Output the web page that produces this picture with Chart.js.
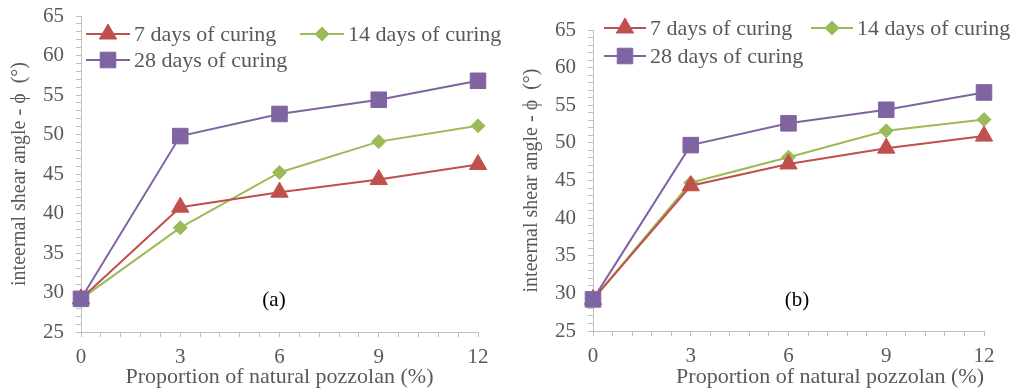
<!DOCTYPE html>
<html><head><meta charset="utf-8">
<script src="https://cdn.jsdelivr.net/npm/chart.js@4/dist/chart.umd.min.js"></script>
<style>
html,body{margin:0;padding:0;background:#fff;width:1014px;height:389px;overflow:hidden}
.box{position:absolute;top:0;width:507px;height:389px}
canvas{display:block}
</style></head><body>
<div class="box" style="left:0"><canvas id="ca" width="507" height="389"></canvas></div>
<div class="box" style="left:507px"><canvas id="cb" width="507" height="389"></canvas></div>
<script>
// ---- data ----
const categories = [0, 3, 6, 9, 12];
const seriesLabels = ['7 days of curing', '14 days of curing', '28 days of curing'];
const a7  = [29.2, 40.8, 42.7, 44.3, 46.2];
const a14 = [29.2, 38.2, 45.2, 49.1, 51.1];
const a28 = [29.2, 49.8, 52.6, 54.4, 56.8];
const b7  = [29.2, 44.3, 47.2, 49.3, 50.9];
const b14 = [29.2, 44.7, 48.1, 51.6, 53.1];
const b28 = [29.2, 49.7, 52.6, 54.4, 56.7];
const xTickLabels = [0, 3, 6, 9, 12];
const yTickLabels = [25, 30, 35, 40, 45, 50, 55, 60, 65];
const yTitle = 'inteernal shear angle - ϕ  (°)';
const xTitle = 'Proportion of natural pozzolan (%)';
const panelLabels = ['(a)', '(b)'];

// ---- styles ----
const FONT = '"Liberation Serif", "Times New Roman", serif';
const GREY = '#595959';
const AXIS = '#bfbfbf';
const styles = [
  {color: '#C0504D', pointStyle: 'triangle', radius: 10, order: 1},
  {color: '#9BBB59', pointStyle: 'rectRot', radius: 7, order: 2},
  {color: '#8064A2', pointStyle: 'rect', radius: 11, order: 0}
];

function makeDatasets(arrs) {
  return arrs.map((vals, i) => ({
    label: seriesLabels[i],
    data: categories.map((c, j) => ({x: c, y: vals[j]})),
    borderColor: styles[i].color,
    backgroundColor: styles[i].color,
    pointBackgroundColor: styles[i].color,
    pointBorderColor: styles[i].color,
    pointBorderWidth: 1,
    borderWidth: 2,
    pointStyle: styles[i].pointStyle,
    pointRadius: styles[i].radius,
    pointHoverRadius: styles[i].radius,
    order: styles[i].order,
    clip: false,
    tension: 0
  }));
}

const inlineLegend = {
  id: 'inlineLegend',
  afterDraw(chart, args, opts) {
    const ctx = chart.ctx;
    ctx.save();
    opts.items.forEach(it => {
      const ds = chart.data.datasets[it.index];
      ctx.strokeStyle = ds.borderColor;
      ctx.lineWidth = ds.borderWidth;
      ctx.beginPath();
      ctx.moveTo(it.x, it.y);
      ctx.lineTo(it.x + opts.lineLen, it.y);
      ctx.stroke();
      ctx.fillStyle = ds.pointBackgroundColor;
      ctx.strokeStyle = ds.pointBorderColor;
      ctx.lineWidth = 1;
      Chart.helpers.drawPoint(ctx, {pointStyle: ds.pointStyle, radius: ds.pointRadius, borderWidth: 1, rotation: 0},
        it.x + opts.lineLen / 2, it.y);
      ctx.font = '22px ' + FONT;
      ctx.fillStyle = GREY;
      ctx.textAlign = 'left';
      ctx.textBaseline = 'middle';
      ctx.fillText(ds.label, it.x + opts.lineLen + 4, it.y + 1);
    });
    ctx.font = '21px ' + FONT;
    ctx.fillStyle = '#000';
    ctx.textAlign = 'center';
    ctx.textBaseline = 'middle';
    ctx.fillText(opts.panel, opts.panelX, opts.panelY);
    ctx.restore();
  }
};

function makeChart(id, arrs, cfg) {
  return new Chart(document.getElementById(id), {
    type: 'line',
    data: {datasets: makeDatasets(arrs)},
    options: {
      responsive: false,
      animation: false,
      events: [],
      layout: {padding: {top: cfg.top, right: cfg.right, left: 0, bottom: 0}},
      plugins: {
        legend: {display: false},
        tooltip: {enabled: false},
        inlineLegend: cfg.legend
      },
      scales: {
        x: {
          type: 'linear', min: 0, max: 12,
          afterFit: s => { s.height = cfg.xH; s.paddingLeft = 4; s.paddingRight = 4; },
          border: {color: AXIS, width: 1},
          grid: {display: true, drawOnChartArea: false, drawTicks: true, tickLength: 5, color: AXIS},
          ticks: {
            stepSize: 0.6, autoSkip: false, maxRotation: 0, padding: 8,
            color: GREY, font: {family: FONT, size: 21},
            callback: v => { const r = Math.round(v); return (Math.abs(v - r) < 1e-6 && xTickLabels.includes(r)) ? String(r) : ''; }
          },
          title: {display: true, text: xTitle, color: GREY, align: cfg.xAlign,
            font: {family: FONT, size: 22, lineHeight: 1.1}, padding: {top: 0, bottom: 0}}
        },
        y: {
          min: 25, max: 65,
          afterFit: s => { s.width = cfg.yW; s.paddingTop = 4; s.paddingBottom = 4; },
          border: {color: AXIS, width: 1},
          grid: {display: true, drawOnChartArea: false, drawTicks: true, tickLength: 5, color: AXIS},
          ticks: {
            stepSize: 1, autoSkip: false, padding: 12,
            color: GREY, font: {family: FONT, size: 21},
            callback: v => { const r = Math.round(v); return (Math.abs(v - r) < 1e-6 && yTickLabels.includes(r)) ? String(r) : ''; }
          },
          title: {display: true, text: yTitle, color: GREY,
            font: {family: FONT, size: 20, lineHeight: 1.2}, padding: {top: cfg.yTitlePad, bottom: 0}}
        }
      }
    },
    plugins: [inlineLegend]
  });
}

makeChart('ca', [a7, a14, a28], {
  top: 16, right: 29, yW: 81, xH: 57, xAlign: 'center', yTitlePad: 8,
  legend: {lineLen: 44, panel: panelLabels[0], panelX: 274, panelY: 300,
    items: [{index: 0, x: 86, y: 34}, {index: 1, x: 300, y: 34}, {index: 2, x: 86, y: 60}]}
});
makeChart('cb', [b7, b14, b28], {
  top: 30, right: 30, yW: 86, xH: 58, xAlign: 'end', yTitlePad: 13,
  legend: {lineLen: 42, panel: panelLabels[1], panelX: 290, panelY: 300,
    items: [{index: 0, x: 97, y: 28}, {index: 1, x: 304, y: 28}, {index: 2, x: 97, y: 56}]}
});
</script>
</body></html>
